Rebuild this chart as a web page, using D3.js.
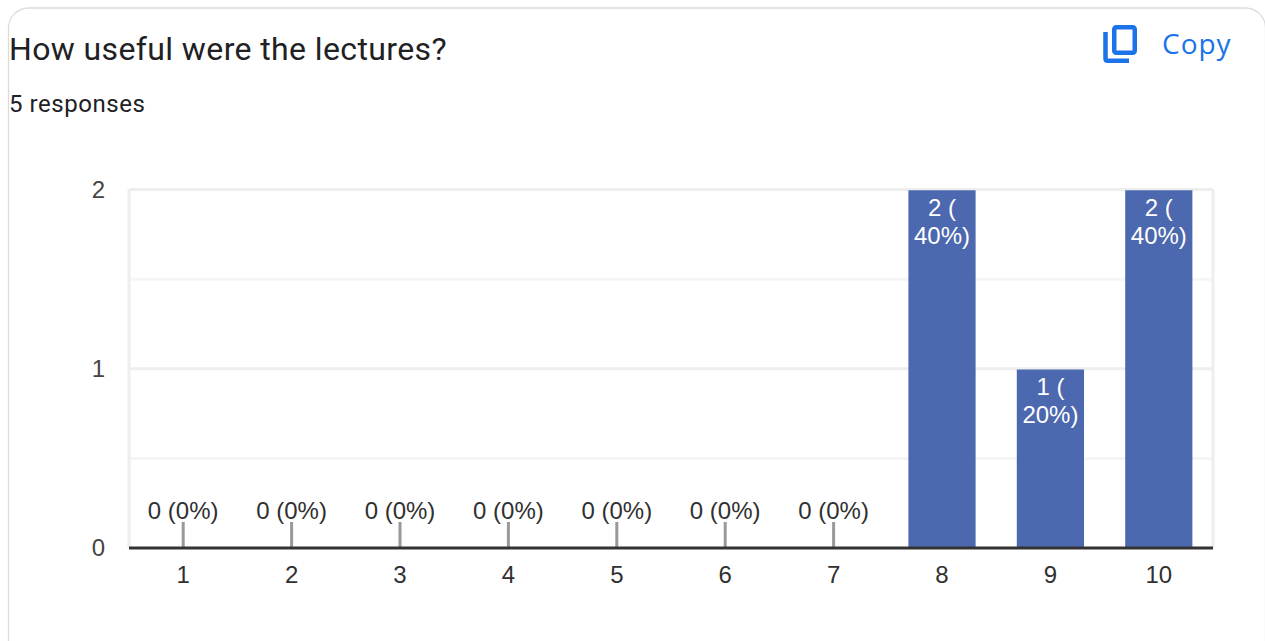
<!DOCTYPE html>
<html>
<head>
<meta charset="utf-8">
<script src="https://cdn.jsdelivr.net/npm/d3@7"></script>
<style>
html,body{margin:0;padding:0;background:#fff;overflow:hidden;}
</style>
</head>
<body>
<div id="chart"></div>
<script>
const categories = ['1','2','3','4','5','6','7','8','9','10'];
const counts = [0,0,0,0,0,0,0,2,1,2];
const percents = ['0%','0%','0%','0%','0%','0%','0%','40%','20%','40%'];
const yTicks = [0,1,2];
const minorTicks = [0.5,1.5];

const width = 1265, height = 641;
const plot = {left:129, right:1213, top:189.5, bottom:548};
const barColor = '#4c68ae', gridColor = '#eeeeee', minorColor = '#f5f5f5', textColor = '#303030';
const chartFont = '"Liberation Sans", Arial, sans-serif';

const svg = d3.select('#chart').append('svg')
    .attr('width',width)
    .attr('height',height)
    .style('display','block');

// card outline, runs off the bottom of the picture
svg.append('rect')
    .attr('x',8.5).attr('y',8)
    .attr('width',1257).attr('height',700)
    .attr('rx',20)
    .attr('fill','#fff')
    .attr('stroke','#dadce0')
    .attr('stroke-width',1.3);

svg.append('text')
    .attr('x',9).attr('y',60)
    .attr('font-family','Roboto').attr('font-size',32)
    .attr('letter-spacing',0.38)
    .attr('fill','#202124')
    .text('How useful were the lectures?');

svg.append('text')
    .attr('x',9).attr('y',112)
    .attr('font-family','Roboto').attr('font-size',24)
    .attr('letter-spacing',0.55)
    .attr('fill','#202124')
    .text('5 responses');

// copy button
const copyBlue = '#1a73e8';
const icon = svg.append('g').attr('fill','none').attr('stroke',copyBlue).attr('stroke-width',4.5);
icon.append('rect').attr('x',1114.25).attr('y',27.25).attr('width',20.5).attr('height',25.5).attr('rx',2);
icon.append('path').attr('d','M1105.5 32V58.5Q1105.5 60.75 1107.75 60.75H1129');
svg.append('text')
    .attr('x',1162).attr('y',54)
    .attr('font-family','"Open Sans"').attr('font-size',28)
    .attr('font-weight',500)
    .attr('letter-spacing',1)
    .attr('fill',copyBlue)
    .text('Copy');

const x = d3.scaleBand().domain(categories).range([plot.left,plot.right]).paddingInner(0.38).paddingOuter(0.19);
const y = d3.scaleLinear().domain([0,2]).range([plot.bottom,plot.top]);

const g = svg.append('g');

// frame and grid
g.selectAll('line.minor').data(minorTicks).join('line')
    .attr('class','minor')
    .attr('x1',plot.left).attr('x2',plot.right)
    .attr('y1',d=>y(d)).attr('y2',d=>y(d))
    .attr('stroke',minorColor).attr('stroke-width',3);
g.selectAll('line.major').data(yTicks.filter(d=>d>0)).join('line')
    .attr('class','major')
    .attr('x1',plot.left).attr('x2',plot.right)
    .attr('y1',d=>y(d)).attr('y2',d=>y(d))
    .attr('stroke',gridColor).attr('stroke-width',3);
g.append('line')
    .attr('x1',plot.left).attr('x2',plot.left)
    .attr('y1',plot.top).attr('y2',plot.bottom)
    .attr('stroke',gridColor).attr('stroke-width',3);
g.append('line')
    .attr('x1',plot.right).attr('x2',plot.right)
    .attr('y1',plot.top).attr('y2',plot.bottom)
    .attr('stroke',gridColor).attr('stroke-width',3);

const rows = categories.map((c,i)=>({c:c,n:counts[i],p:percents[i]}));

// bars start just under the grid line
g.selectAll('rect.bar').data(rows.filter(d=>d.n>0)).join('rect')
    .attr('class','bar')
    .attr('x',d=>x(d.c))
    .attr('y',d=>y(d.n)+0.75)
    .attr('width',x.bandwidth())
    .attr('height',d=>y(0)-y(d.n)-0.75)
    .attr('fill',barColor);

// stems for the zero values
g.selectAll('line.stem').data(rows.filter(d=>d.n==0)).join('line')
    .attr('class','stem')
    .attr('x1',d=>x(d.c)+x.bandwidth()/2).attr('x2',d=>x(d.c)+x.bandwidth()/2)
    .attr('y1',y(0)-26).attr('y2',y(0))
    .attr('stroke','#999999').attr('stroke-width',3);

// baseline
g.append('line')
    .attr('x1',plot.left).attr('x2',plot.right)
    .attr('y1',y(0)).attr('y2',y(0))
    .attr('stroke','#333333').attr('stroke-width',3);

// zero labels sit above the stems
g.selectAll('text.zero').data(rows.filter(d=>d.n==0)).join('text')
    .attr('class','zero')
    .attr('x',d=>x(d.c)+x.bandwidth()/2)
    .attr('y',y(0)-29)
    .attr('text-anchor','middle')
    .attr('font-family',chartFont).attr('font-size',24)
    .attr('fill',textColor)
    .text(d=>d.n+' ('+d.p+')');

// labels inside bars wrap on two lines
const inside = g.selectAll('text.inside').data(rows.filter(d=>d.n>0)).join('text')
    .attr('class','inside')
    .attr('text-anchor','middle')
    .attr('font-family',chartFont).attr('font-size',24)
    .attr('fill','#ffffff');
inside.append('tspan')
    .attr('x',d=>x(d.c)+x.bandwidth()/2)
    .attr('y',d=>y(d.n)+26)
    .text(d=>d.n+' (');
inside.append('tspan')
    .attr('x',d=>x(d.c)+x.bandwidth()/2)
    .attr('y',d=>y(d.n)+54)
    .text(d=>d.p+')');

// axis labels
const xAxis = g.append('g')
    .attr('transform','translate(0,'+plot.bottom+')')
    .call(d3.axisBottom(x).tickSize(0).tickPadding(18));
xAxis.select('.domain').remove();
xAxis.selectAll('text')
    .attr('font-family',chartFont).attr('font-size',24).attr('fill',textColor);

const yAxis = g.append('g')
    .attr('transform','translate('+plot.left+',0)')
    .call(d3.axisLeft(y).tickValues(yTicks).tickFormat(d3.format('d')).tickSize(0).tickPadding(24));
yAxis.select('.domain').remove();
yAxis.selectAll('text')
    .attr('font-family',chartFont).attr('font-size',24).attr('fill','#444444');
</script>
</body>
</html>
